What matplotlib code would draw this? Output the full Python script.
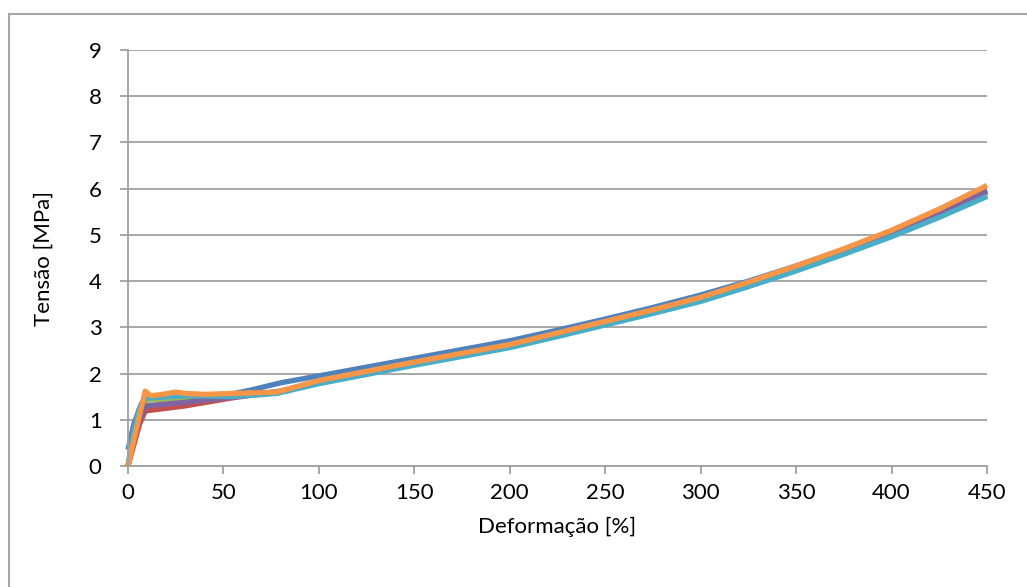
import matplotlib.pyplot as plt
from matplotlib.patches import Rectangle

plt.rcParams['font.family'] = ['Lato', 'DejaVu Sans']

trecho_def = [100, 125, 150, 175, 200, 225, 250, 275, 300, 325, 350, 375, 400, 425, 450]

cp1_def = [0, 3, 7, 10, 30, 50, 65, 80] + trecho_def
cp1_ten = [0.35, 0.9, 1.35, 1.5, 1.5, 1.52, 1.65, 1.8,
           1.95, 2.14, 2.33, 2.52, 2.71, 2.94, 3.18, 3.43, 3.70, 4.00, 4.33, 4.68, 5.05, 5.48, 5.97]

cp2_def = [0, 3, 6, 9, 30, 54, 80] + trecho_def
cp2_ten = [0, 0.45, 0.9, 1.19, 1.3, 1.47, 1.62,
           1.82, 2.01, 2.21, 2.40, 2.60, 2.84, 3.09, 3.34, 3.61, 3.93, 4.27, 4.63, 5.01, 5.44, 5.92]

cp3_def = [0, 3, 6, 9, 30, 55, 78] + trecho_def
cp3_ten = [0, 0.65, 1.15, 1.42, 1.48, 1.5, 1.58,
           1.80, 2.00, 2.20, 2.39, 2.58, 2.82, 3.07, 3.32, 3.58, 3.90, 4.24, 4.60, 4.98, 5.41, 5.86]

cp4_def = [0, 3, 6, 9, 30, 55, 80] + trecho_def
cp4_ten = [0, 0.55, 1.0, 1.3, 1.38, 1.49, 1.62,
           1.83, 2.03, 2.23, 2.42, 2.61, 2.85, 3.10, 3.35, 3.62, 3.94, 4.29, 4.65, 5.03, 5.47, 5.95]

cp5_def = [0, 3, 6, 9, 30, 55, 78] + trecho_def
cp5_ten = [0, 0.75, 1.25, 1.47, 1.52, 1.5, 1.57,
           1.78, 1.98, 2.18, 2.37, 2.56, 2.80, 3.05, 3.30, 3.56, 3.88, 4.22, 4.58, 4.96, 5.38, 5.83]

cp6_def = [0, 3, 6, 9, 12, 18, 25, 30, 40, 55, 78] + trecho_def
cp6_ten = [0, 0.55, 1.1, 1.62, 1.52, 1.55, 1.6, 1.57, 1.55, 1.57, 1.6,
           1.85, 2.05, 2.25, 2.44, 2.63, 2.88, 3.13, 3.38, 3.65, 3.98, 4.33, 4.70, 5.10, 5.56, 6.07]

series = [
    (cp1_def, cp1_ten, '#4F81BD'),
    (cp2_def, cp2_ten, '#C0504D'),
    (cp3_def, cp3_ten, '#9BBB59'),
    (cp4_def, cp4_ten, '#8064A2'),
    (cp5_def, cp5_ten, '#4BACC6'),
    (cp6_def, cp6_ten, '#F79646'),
]

fig = plt.figure(figsize=(10.27, 5.87), dpi=100)
ax = fig.add_axes([128 / 1027, 1 - 466 / 587, (987 - 128) / 1027, (466 - 50) / 587])

# moldura externa do grafico
fig.patches.append(Rectangle((9 / 1027, -0.1), 1.2, 1 - 14 / 587 + 0.1,
                             transform=fig.transFigure, fill=False,
                             edgecolor='#A6A6A6', linewidth=1.5))

for x, y, c in series:
    ax.plot(x, y, color=c, linewidth=3.8, solid_capstyle='butt',
            solid_joinstyle='round', clip_on=False)

ax.set_xlim(0, 450)
ax.set_ylim(0, 9)
ax.set_xticks(range(0, 451, 50))
ax.set_yticks(range(0, 10))
ax.grid(axis='y', color='#A0A0A0', linewidth=1.3)
ax.set_axisbelow(True)

for s in ['top', 'right']:
    ax.spines[s].set_visible(False)
for s in ['left', 'bottom']:
    ax.spines[s].set_color('#A0A0A0')
    ax.spines[s].set_linewidth(1.3)

ax.tick_params(axis='both', direction='out', length=6, width=1.3, color='#A0A0A0',
               labelsize=16)
ax.tick_params(axis='x', pad=6)
ax.tick_params(axis='y', pad=13)
ax.set_xlabel('Deformação [%]', fontsize=16, labelpad=10)
ax.set_ylabel('Tensão [MPa]', fontsize=16, labelpad=25)

fig.savefig('out.png', dpi=100)
